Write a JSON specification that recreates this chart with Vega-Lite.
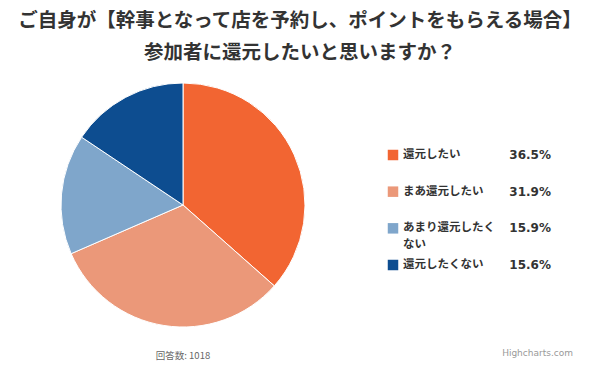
{
  "$schema": "https://vega.github.io/schema/vega-lite/v6.json",
  "padding": {"left": 13, "top": 10, "right": 13, "bottom": 5},
  "background": "white",
  "config": {"view": {"stroke": null}, "font": "Noto Sans CJK JP"},
  "title": {
    "text": ["ご自身が【幹事となって店を予約し、ポイントをもらえる場合】", "参加者に還元したいと思いますか？"],
    "fontSize": 19.5,
    "fontWeight": "bold",
    "color": "#333333",
    "lineHeight": 32,
    "anchor": "middle",
    "dx": 7,
    "offset": 18,
    "font": "Noto Sans CJK JP"
  },
  "data": {
    "values": [
      {"order": 1, "category": "還元したい", "label": "還元したい", "pct": 36.5},
      {"order": 2, "category": "まあ還元したい", "label": "まあ還元したい", "pct": 31.9},
      {"order": 3, "category": "あまり還元したくない", "label": "あまり還元したく\nない", "pct": 15.9},
      {"order": 4, "category": "還元したくない", "label": "還元したくない", "pct": 15.6}
    ]
  },
  "spacing": 32,
  "hconcat": [
    {
      "width": 340,
      "height": 244,
      "title": {"text": "回答数: 1018", "orient": "bottom", "anchor": "middle", "fontSize": 9.5, "fontWeight": "normal", "color": "#666666", "offset": 22},
      "mark": {"type": "arc", "outerRadius": 122, "stroke": "white", "strokeWidth": 1},
      "encoding": {
        "theta": {"field": "pct", "type": "quantitative", "stack": true},
        "order": {"field": "order", "type": "quantitative"},
        "color": {
          "field": "category", "type": "nominal", "legend": null,
          "scale": {
            "domain": ["還元したい", "まあ還元したい", "あまり還元したくない", "還元したくない"],
            "range": ["#F26532", "#EB9879", "#7FA6CB", "#0D4D90"]
          }
        }
      }
    },
    {
      "width": 188,
      "height": 244,
      "title": {"text": "Highcharts.com", "orient": "bottom", "anchor": "end", "fontSize": 9, "fontWeight": "normal", "color": "#999999", "offset": 22, "font": "DejaVu Sans"},
      "transform": [{"calculate": "format(datum.pct, '.1f') + '%'", "as": "pctLabel"}],
      "encoding": {
        "y": {
          "field": "category", "type": "ordinal", "axis": null,
          "sort": ["還元したい", "まあ還元したい", "あまり還元したくない", "還元したくない"],
          "scale": {"type": "point", "range": [72, 182], "padding": 0}
        }
      },
      "layer": [
        {
          "mark": {"type": "point", "shape": "square", "filled": true, "size": 110, "opacity": 1, "x": 8},
          "encoding": {
            "color": {
              "field": "category", "type": "nominal", "legend": null,
              "scale": {
                "domain": ["還元したい", "まあ還元したい", "あまり還元したくない", "還元したくない"],
                "range": ["#F26532", "#EB9879", "#7FA6CB", "#0D4D90"]
              }
            }
          }
        },
        {
          "mark": {"type": "text", "x": 18, "align": "left", "baseline": "top", "dy": -6, "lineBreak": "\n", "lineHeight": 17, "fontSize": 11.5, "fontWeight": "bold", "color": "#333333", "font": "Noto Sans CJK JP"},
          "encoding": {"text": {"field": "label"}}
        },
        {
          "mark": {"type": "text", "x": 166, "align": "right", "baseline": "middle", "fontSize": 12, "fontWeight": "bold", "color": "#333333", "font": "DejaVu Sans"},
          "encoding": {"text": {"field": "pctLabel"}}
        }
      ]
    }
  ]
}
